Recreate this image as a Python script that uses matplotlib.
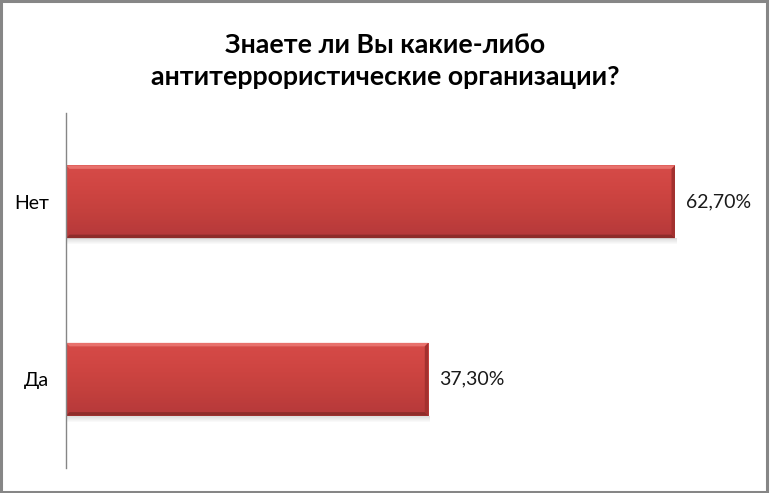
import numpy as np
import matplotlib
matplotlib.use('Agg')
import matplotlib.pyplot as plt
from matplotlib.patches import Rectangle, Polygon
from matplotlib.colors import LinearSegmentedColormap

categories = ['Да', 'Нет']
values = [37.3, 62.7]
value_labels = ['37,30%', '62,70%']
title = 'Знаете ли Вы какие-либо\nантитеррористические организации?'

plt.rcParams['font.family'] = ['Lato', 'DejaVu Sans']

fig = plt.figure(figsize=(7.7, 4.93), dpi=100)
W, H = 770, 493
# axes placed in pixel coords: left 66, right 740, top 113, bottom 468
ax = fig.add_axes([66 / W, (H - 468) / H, (740 - 66) / W, (468 - 113) / H])

bar_h = 0.41
px_x = 62.7 / 609          # data units per pixel, horizontal
px_y = 2.0 / 355           # data units per pixel, vertical
ax.set_xlim(0, (740 - 66) * px_x)
ax.set_ylim(-0.5, 1.5)

grad = LinearSegmentedColormap.from_list('bar', ['#d64b48', '#cf4542', '#c3403d', '#b5383a'])
g = np.linspace(0, 1, 100).reshape(-1, 1)

for i, (v, lab) in enumerate(zip(values, value_labels)):
    y0 = i - bar_h / 2
    y1 = y0 + bar_h
    # soft shadow below the bar
    for k in range(6):
        ax.add_patch(Rectangle((0, y0 - (k + 1) * px_y), v + 2 * px_x, px_y,
                               color='#000000', alpha=0.13 * (1 - k / 6), lw=0, zorder=2))
    bar = ax.barh(i, v, height=bar_h, color='#c94340', lw=0, zorder=3)[0]
    im = ax.imshow(g, cmap=grad, aspect='auto', extent=(0, v, y0, y1), zorder=4,
                   interpolation='bilinear')
    im.set_clip_path(bar)
    # bevel edges
    b = 3.5
    ax.add_patch(Polygon([(0, y1), (v, y1), (v - b * px_x, y1 - b * px_y), (b * px_x, y1 - b * px_y)],
                         closed=True, color='#e8716c', lw=0, zorder=5))
    ax.add_patch(Polygon([(0, y0), (v, y0), (v - b * px_x, y0 + b * px_y), (b * px_x, y0 + b * px_y)],
                         closed=True, color='#8e2c2a', lw=0, zorder=5))
    ax.add_patch(Polygon([(v, y0), (v, y1), (v - b * px_x, y1 - b * px_y), (v - b * px_x, y0 + b * px_y)],
                         closed=True, color='#a3312f', lw=0, zorder=5))
    ax.text(v + 11 * px_x, i, lab, va='center', ha='left', fontsize=14, color='#1a1a1a')

ax.set_yticks([0, 1])
ax.set_yticklabels(categories, fontsize=14)
ax.tick_params(axis='y', length=0, pad=12)
ax.set_xticks([])
for s in ['top', 'right', 'bottom']:
    ax.spines[s].set_visible(False)
ax.spines['left'].set_color('#868686')
ax.spines['left'].set_linewidth(1)
ax.spines['left'].set_zorder(6)

fig.text(0.5, 1 - 61 / H, title, ha='center', va='center', fontsize=19.3,
         fontweight='bold', linespacing=1.42)

fig.patches.append(Rectangle((0.0015, 0.002), 0.995, 0.996, transform=fig.transFigure,
                             fill=False, edgecolor='#868686', lw=2.2))

fig.savefig('out.png', dpi=100)
